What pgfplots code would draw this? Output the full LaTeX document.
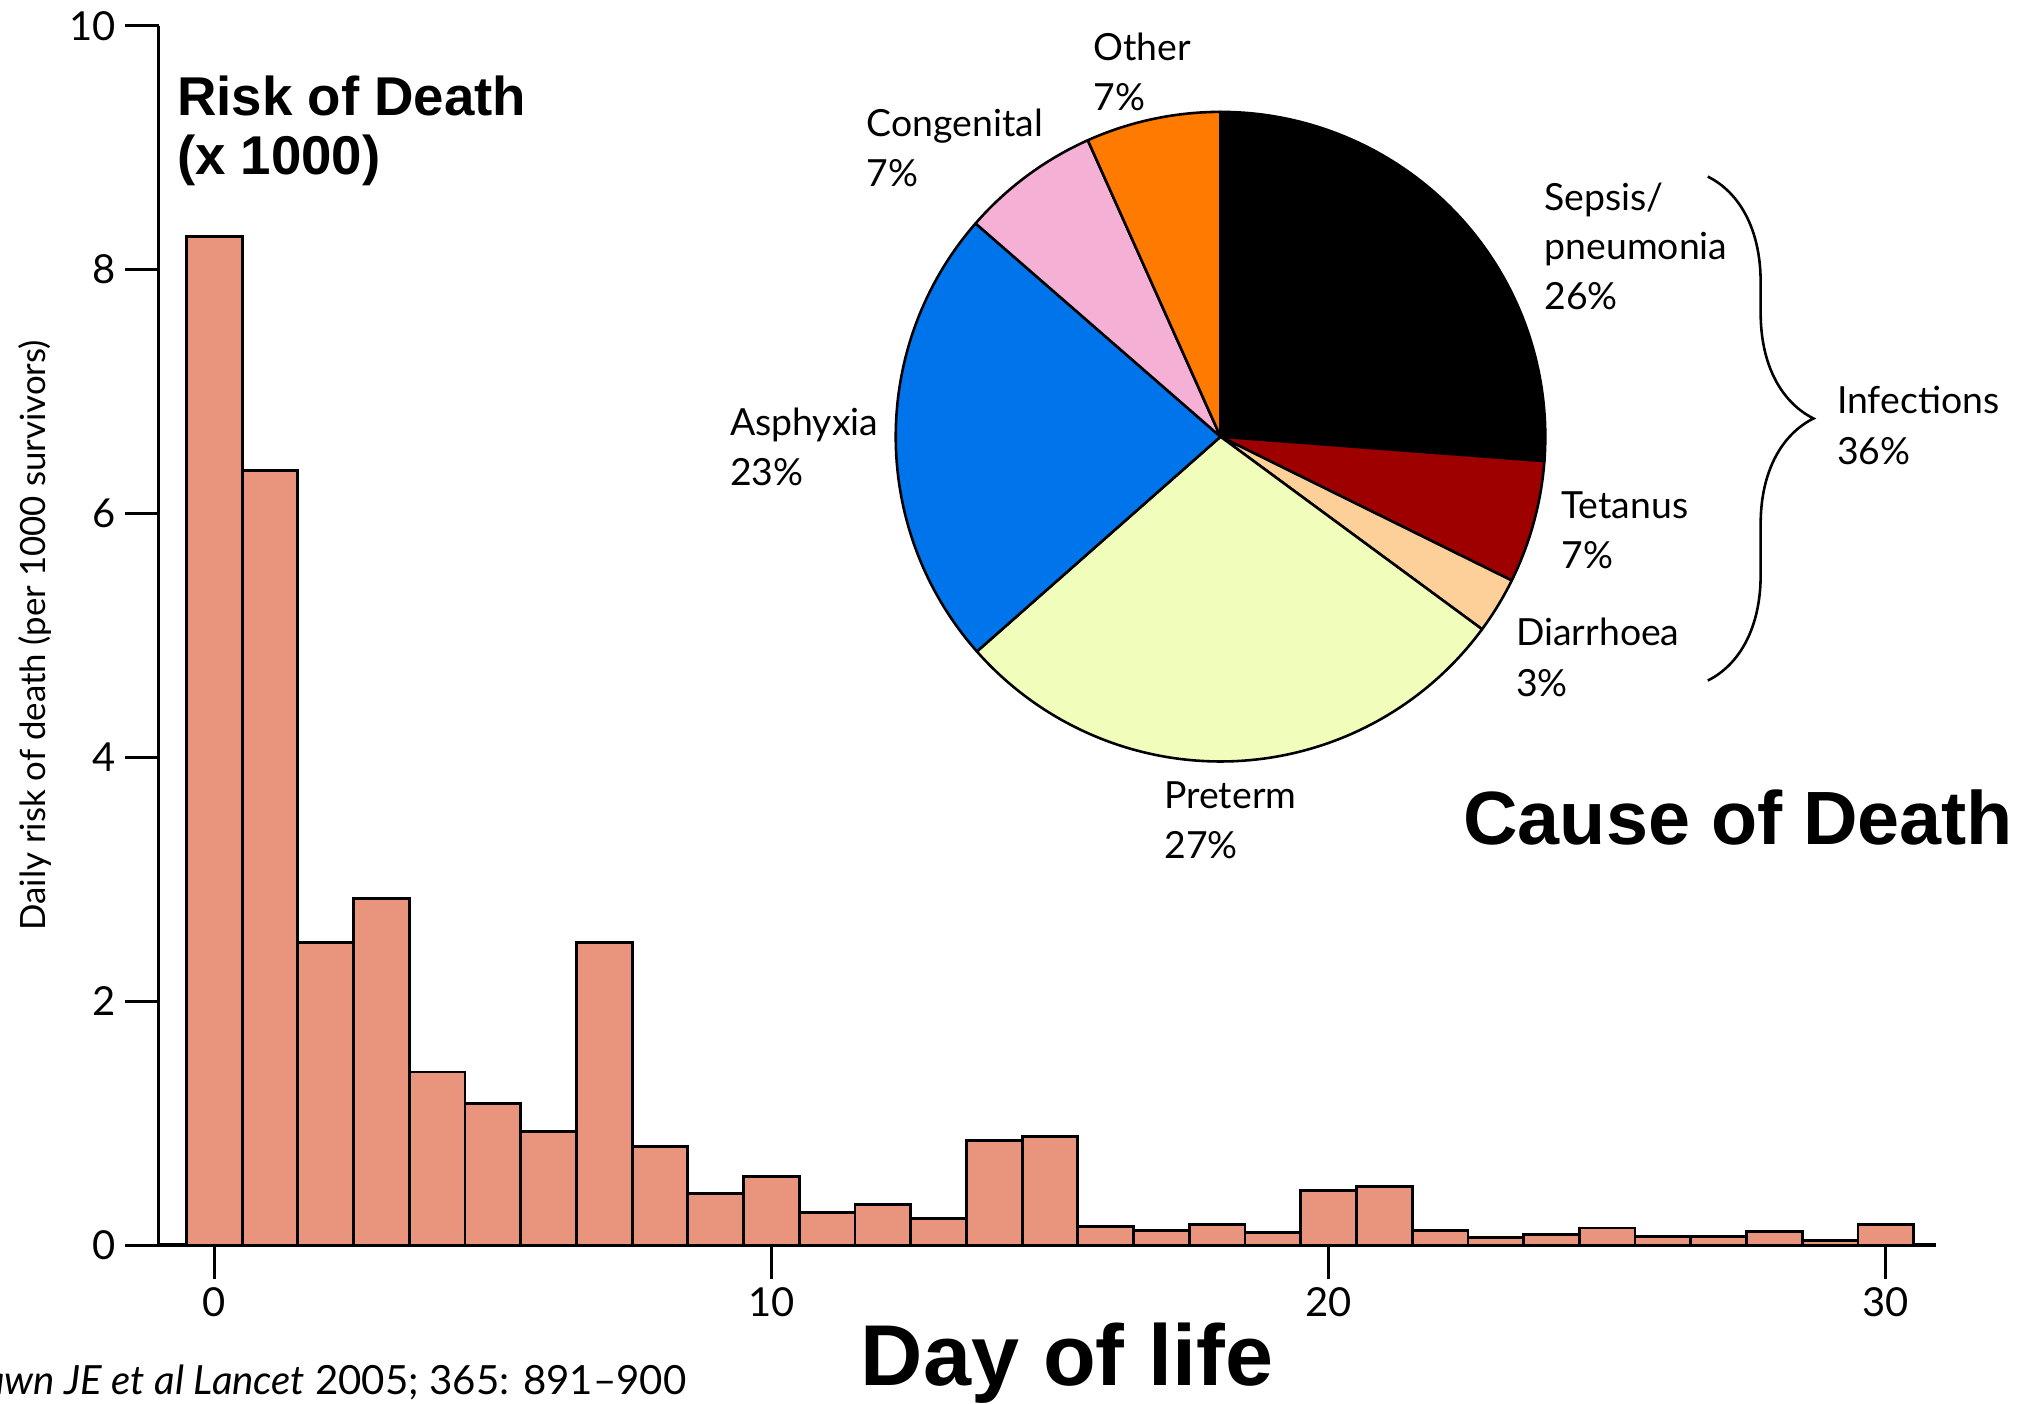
\documentclass[border=0pt]{standalone}
\usepackage{pgfplots}
\pgfplotsset{compat=1.18}
\usepackage{fontspec}
\setmainfont{Lato}
\newfontfamily\titlefont{Liberation Sans}
\usetikzlibrary{decorations.pathreplacing}
\definecolor{barcol}{RGB}{233,148,125}
\definecolor{sepsis}{RGB}{0,0,0}
\definecolor{tetanus}{RGB}{158,0,0}
\definecolor{diarr}{RGB}{253,208,154}
\definecolor{preterm}{RGB}{241,253,186}
\definecolor{asphyx}{RGB}{0,117,235}
\definecolor{congen}{RGB}{245,176,213}
\definecolor{other}{RGB}{255,122,0}
% position helper: shown-image pixels (0.5pt each) relative to axis origin O
\newcommand{\pos}[2]{([shift={({((#1)-123)*0.5pt},{(966-(#2))*0.5pt})}]O)}
\newcommand{\lab}[5]{% x, baseline y, line1, line2
  \node[anchor=base west, inner sep=0pt, font=\fontsize{14.5}{17}\selectfont] at \pos{#1}{#2} {#3};
  \node[anchor=base west, inner sep=0pt, font=\fontsize{14.5}{17}\selectfont] at \pos{#1}{#2+39} {#4};}
% pie slice: start angle, percent, colour
\newcommand{\slice}[3]{%
  \pgfmathsetmacro{\endang}{#1-3.6*#2}%
  \edef\doslice{\noexpand\filldraw[fill=#3, draw=black, line width=1pt, line join=round]
    (axis cs:18.06,6.63) -- ++(#1:126pt) arc[start angle=#1, end angle=\endang, radius=126pt] -- cycle;}%
  \doslice}
\begin{document}
\begin{tikzpicture}
\begin{axis}[
  scale only axis,
  width=689.5pt, height=473pt,
  xmin=-1, xmax=30.9, ymin=0, ymax=10,
  axis lines*=left,
  clip=false,
  xtick={0,10,20,30}, ytick={0,2,4,6,8,10},
  tick align=outside,
  major tick length=13pt,
  axis line style={line width=1.3pt},
  every tick/.style={black, line width=1.2pt},
  ticklabel style={font=\fontsize{15.5}{18}\selectfont},
  /pgf/number format/assume math mode=true,
  ybar, bar width=1, bar shift=0pt,
]
\coordinate (O) at (rel axis cs:0,0);
\addplot[fill=barcol, draw=black, line width=1.1pt] coordinates {
 (0,8.27) (1,6.35) (2,2.48) (3,2.84) (4,1.42) (5,1.16) (6,0.93) (7,2.48)
 (8,0.81) (9,0.42) (10,0.56) (11,0.27) (12,0.33) (13,0.22) (14,0.86) (15,0.89)
 (16,0.15) (17,0.12) (18,0.17) (19,0.10) (20,0.45) (21,0.48) (22,0.12) (23,0.06)
 (24,0.09) (25,0.14) (26,0.07) (27,0.07) (28,0.11) (29,0.04) (30,0.17)};
% cause-of-death pie (percent of deaths)
\slice{90}{26.2}{sepsis}
\slice{-4.32}{6.1}{tetanus}
\slice{-26.28}{2.8}{diarr}
\slice{-36.36}{28.4}{preterm}
\slice{-138.6}{22.9}{asphyx}
\slice{-221.04}{6.9}{congen}
\slice{-245.88}{6.7}{other}
\end{axis}
% labels
\node[rotate=90, anchor=center, inner sep=0pt, font=\fontsize{13.5}{15}\selectfont] at \pos{27}{493} {Daily risk of death (per 1000 survivors)};
\node[anchor=base west, inner sep=0pt, font=\titlefont\bfseries\fontsize{21.2}{25}\selectfont] at \pos{137}{90} {Risk of Death};
\node[anchor=base west, inner sep=0pt, font=\titlefont\bfseries\fontsize{21.2}{25}\selectfont] at \pos{137}{135} {(x 1000)};
\node[anchor=base, inner sep=0pt, font=\titlefont\bfseries\fontsize{33.5}{40}\selectfont] at \pos{828}{1075} {Day of life};
\node[anchor=base west, inner sep=0pt, font=\titlefont\bfseries\fontsize{29.3}{35}\selectfont] at \pos{1135}{655} {Cause of Death};
\node[anchor=base east, inner sep=0pt, font=\fontsize{15.6}{18}\selectfont] at \pos{533}{1082} {\textit{Lawn JE et al Lancet} 2005; 365: 891--900};
\lab{848}{47}{Other}{7\%}{}
\lab{672}{106}{Congenital}{7\%}{}
\node[anchor=base west, inner sep=0pt, font=\fontsize{14.5}{17}\selectfont] at \pos{1198}{163} {Sepsis/};
\lab{1198}{201.5}{pneumonia}{26\%}{}
\lab{566}{338}{Asphyxia}{23\%}{}
\lab{1425}{321}{Infections}{36\%}{}
\lab{1211}{402}{Tetanus}{7\%}{}
\lab{1176}{501}{Diarrhoea}{3\%}{}
\lab{903}{627}{Preterm}{27\%}{}
\draw[decorate, decoration={brace, amplitude=41pt, aspect=0.48}, line width=1pt] \pos{1325}{137} -- \pos{1325}{528};
\pgfresetboundingbox
\path[use as bounding box] \pos{0}{0} rectangle \pos{1568}{1089};
\end{tikzpicture}
\end{document}
